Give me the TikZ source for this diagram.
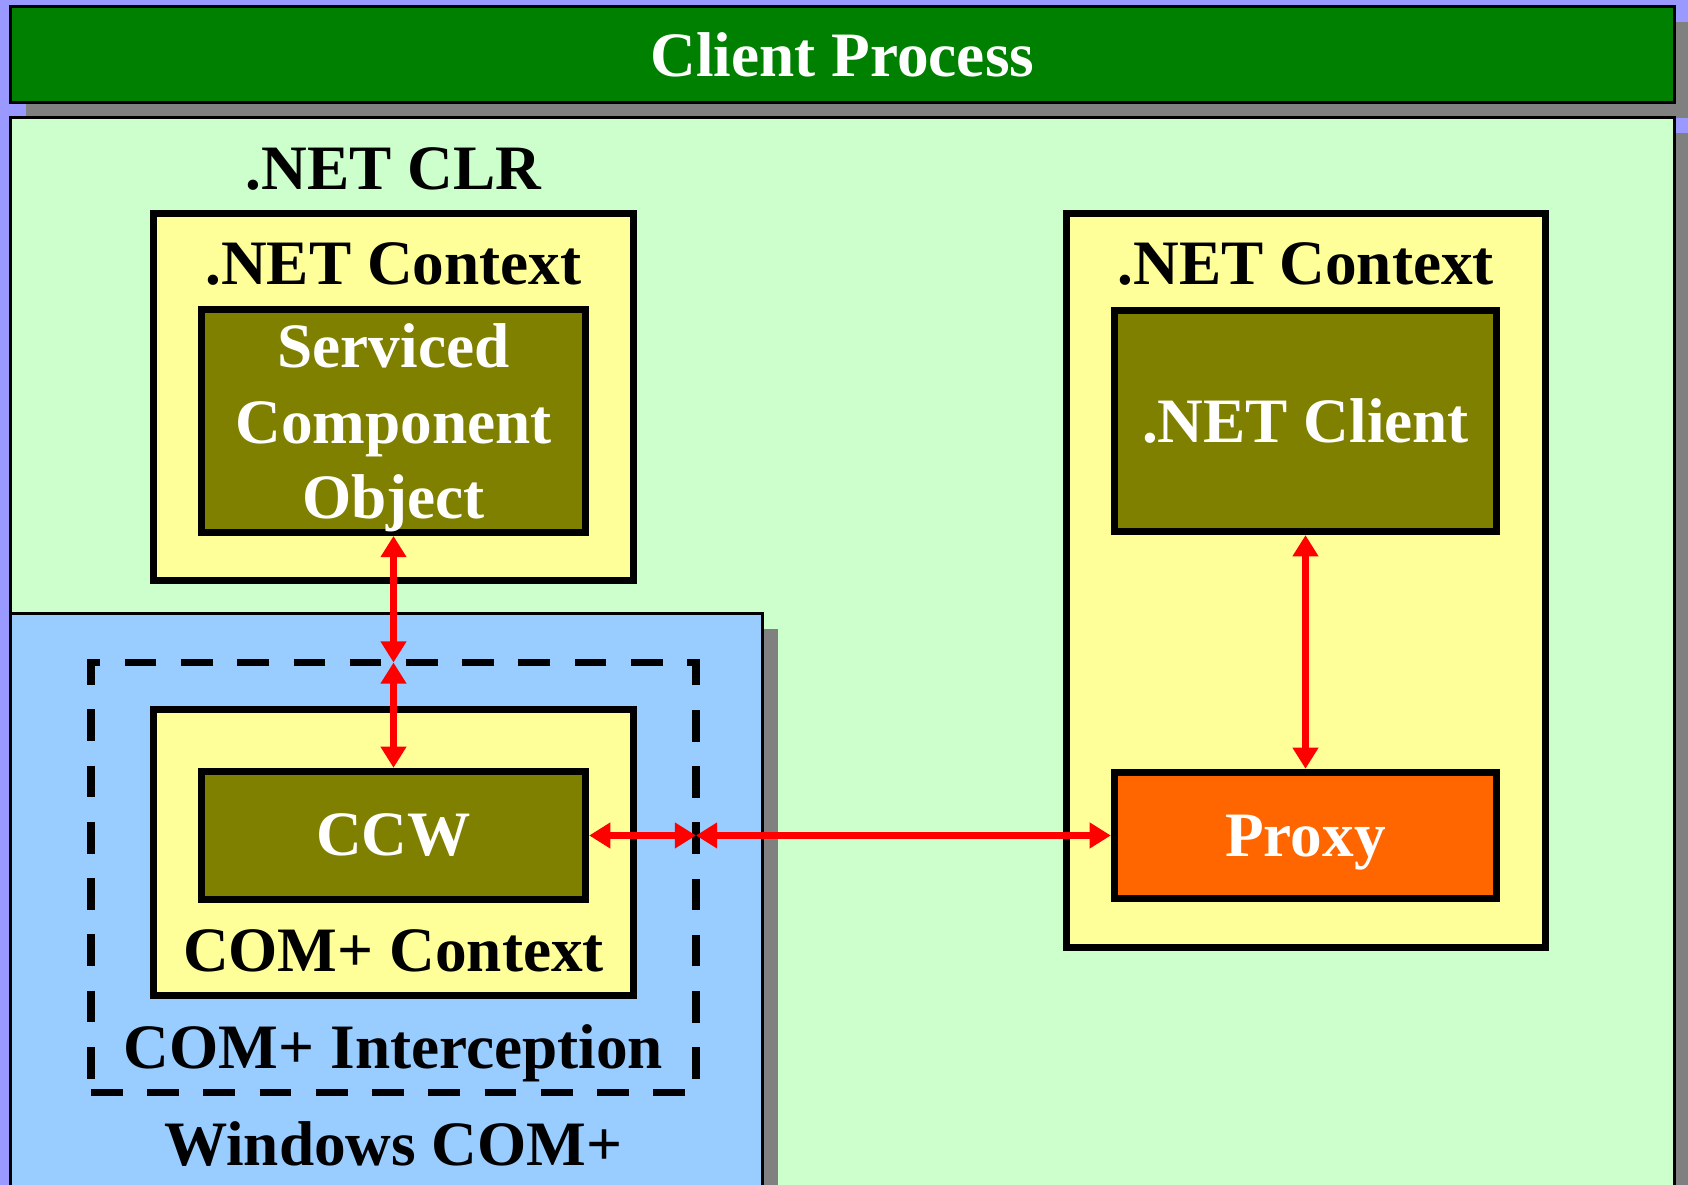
\documentclass[tikz,border=0pt]{standalone}
\usepackage{fontspec}
\setmainfont{Liberation Serif}
\usetikzlibrary{arrows.meta, positioning, shadows}
\definecolor{cbg}{HTML}{9999FF}
\definecolor{cgreen}{HTML}{008000}
\definecolor{cmint}{HTML}{CCFFCC}
\definecolor{csky}{HTML}{99CCFF}
\definecolor{cyellow}{HTML}{FFFF99}
\definecolor{colive}{HTML}{808000}
\definecolor{corange}{HTML}{FF6600}
\definecolor{cshadow}{HTML}{808080}
\definecolor{cred}{HTML}{FF0000}
\tikzset{
  every picture/.style={font=\fontsize{36}{43}\selectfont\bfseries, line width=4.2pt},
  area/.style={draw=black, line width=1.6pt, fill=#1, inner sep=0pt, anchor=north west,
    drop shadow={shadow xshift=0.32cm, shadow yshift=-0.32cm, fill=cshadow, opacity=1}},
  ctxbox/.style={draw=black, fill=cyellow, inner sep=0pt, minimum width=9.6cm},
  objbox/.style={draw=black, fill=#1, text=white, align=center, inner sep=0pt, minimum width=7.68cm},
  objbox/.default=colive,
  link/.style={{Triangle[length=12pt, width=14pt]}-{Triangle[length=12pt, width=14pt]}, draw=cred, line width=4pt},
  lbl/.style={anchor=base},
}

\begin{document}
\begin{tikzpicture}
  \clip (0,0) rectangle (33.76,23.7);
  \fill[cbg] (0,0) rectangle (33.76,23.7);
  % process bar and the two runtimes
  \node[area=cgreen, text=white, minimum width=33.28cm, minimum height=1.92cm] (proc) at (0.18,23.6) {Client Process};
  \node[area=cmint, minimum width=33.28cm, minimum height=22cm] (clr) at (0.18,21.38) {};
  \node[area=csky, minimum width=15.04cm, minimum height=12cm] (complus) at (0.18,11.46) {};
  % left: serviced component inside the CLR
  \node[ctxbox, minimum height=7.34cm] (ctxL) at (7.87,15.76) {};
  \node[objbox, minimum height=4.42cm] (svc) at (7.87,15.28) {\rule{0pt}{1.16cm}Serviced\\Component\\Object};
  % left bottom: interception and COM+ context
  \node[draw=black, outer sep=0pt, dash pattern=on 18pt off 14pt, minimum width=12.1cm, minimum height=8.6cm] (intercept) at (7.87,6.15) {};
  \node[ctxbox, minimum height=5.72cm] (comctx) at (7.87,6.65) {};
  \node[objbox, minimum height=2.56cm] (ccw) at (7.87,6.99) {CCW};
  % right: the client side
  \node[ctxbox, minimum width=9.58cm, minimum height=14.68cm] (ctxR) at (26.12,12.09) {};
  \node[objbox, minimum width=7.64cm, minimum height=4.42cm] (client) at (26.11,15.28) {.NET Client};
  \node[objbox=corange, minimum width=7.64cm, minimum height=2.52cm, text depth=0pt] (proxy) at (26.11,6.99) {Proxy};
  % labels
  \node[lbl] (clrLbl) at (7.87,19.91) {.NET CLR};
  \node[lbl] (ctxLblL) at (7.87,18.0) {.NET Context};
  \node[lbl] (ctxLblR) at (26.12,18.0) {.NET Context};
  \node[lbl] (comctxLbl) at (7.87,4.26) {COM+ Context};
  \node[lbl] (icptLbl) at (7.87,2.32) {COM+ Interception};
  \node[lbl] (winLbl) at (7.87,0.38) {Windows COM+};
  % calls
  \coordinate (junT) at (svc.south |- intercept.north);
  \coordinate (junR) at (ccw.east -| intercept.east);
  \draw[link] (svc.south) -- (junT);
  \draw[link] (junT) -- (ccw.north);
  \draw[link] (ccw.east) -- (junR);
  \draw[link] (junR) -- (proxy.west);
  \draw[link] (client.south) -- (proxy.north);
\end{tikzpicture}
\end{document}
